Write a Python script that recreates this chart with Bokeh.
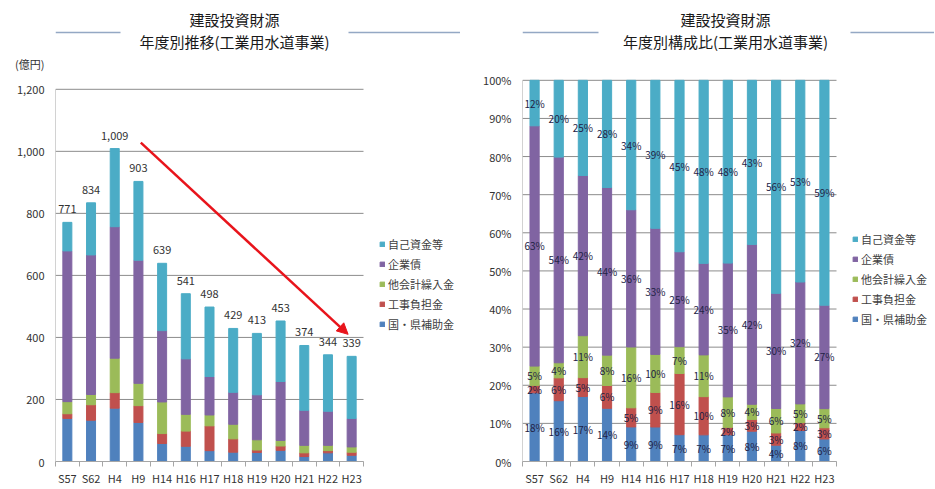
from bokeh.plotting import figure
from bokeh.models import (ColumnDataSource, FixedTicker, NumeralTickFormatter, Range1d,
                          Legend, LegendItem, Arrow, NormalHead, Label)
from bokeh.layouts import row
from bokeh.embed import file_html
from bokeh.resources import INLINE
from bokeh.core.properties import value

FONT = "Noto Sans CJK JP"

# ---------------- data ----------------
years = ["S57", "S62", "H4", "H9", "H14", "H16", "H17", "H18", "H19", "H20", "H21", "H22", "H23"]
subsidy = [139, 133, 172, 126, 58, 49, 35, 30, 29, 36, 16, 28, 20]          # 国・県補助金
contrib = [15, 50, 50, 54, 32, 49, 80, 43, 8, 14, 12, 7, 10]                # 工事負担金
transfer = [39, 33, 111, 72, 102, 54, 35, 47, 33, 18, 24, 17, 17]           # 他会計繰入金
bonds = [486, 450, 424, 397, 230, 179, 124, 103, 145, 190, 113, 110, 92]    # 企業債
own = [92, 168, 252, 254, 217, 210, 224, 206, 198, 195, 209, 182, 200]      # 自己資金等
totals = [771, 834, 1009, 903, 639, 541, 498, 429, 413, 453, 374, 344, 339]

series_names = ["国・県補助金", "工事負担金", "他会計繰入金", "企業債", "自己資金等"]
series_keys = ["subsidy", "contrib", "transfer", "bonds", "own"]
series_colors = ["#4F81BD", "#C0504D", "#9BBB59", "#8064A2", "#4BACC6"]

left_title = ["建設投資財源", "年度別推移(工業用水道事業)"]
right_title = ["建設投資財源", "年度別構成比(工業用水道事業)"]
unit_label = "(億円)"
amount_ticks = [0, 200, 400, 600, 800, 1000, 1200]
share_ticks = [i / 10 for i in range(11)]

xs = list(range(len(years)))
series_vals = [subsidy, contrib, transfer, bonds, own]

TEXT = "#333333"
GRID = "#8c8c8c"
AXIS = "#a6a6a6"
H = 488
BOTTOM = 26           # frame bottom at canvas y = 462
FRAME_H = H - BOTTOM


def make_fig(width, left, plot_px, top_px, ymax, yticks, yfmt, extra_tick=None):
    """Frame spans to the canvas right/top edge so that annotations are not clipped;
    the plotted area (categories / y ticks) covers plot_px x (FRAME_H - top_px) pixels."""
    n = len(years)
    frame_w = width - left
    x_end = -0.5 + frame_w * n / plot_px
    y_end = ymax * FRAME_H / (FRAME_H - top_px)
    p = figure(width=width, height=H, x_range=Range1d(-0.5, x_end), y_range=Range1d(0, y_end),
               output_backend="svg", toolbar_location=None,
               min_border_left=left, min_border_right=0, min_border_top=0, min_border_bottom=BOTTOM)
    p.outline_line_color = None
    p.xgrid.visible = False
    p.ygrid.visible = False
    # horizontal gridlines and y-axis line restricted to the plotted area
    p.segment(x0=[-0.5] * len(yticks), x1=[n - 0.5] * len(yticks), y0=yticks, y1=yticks,
              line_color=GRID, line_width=1)
    p.segment(x0=[-0.5], x1=[-0.5], y0=[0], y1=[yticks[-1]], line_color=AXIS, line_width=1)

    p.xaxis.ticker = FixedTicker(ticks=xs, minor_ticks=[i - 0.5 for i in range(n + 1)])
    p.xaxis.bounds = (-0.5, n - 0.5)
    p.xaxis.major_label_overrides = {i: y for i, y in enumerate(years)}
    p.xaxis.major_tick_out = 0
    p.xaxis.major_tick_in = 0
    p.xaxis.minor_tick_out = 5
    p.xaxis.minor_tick_in = 0
    p.xaxis.minor_tick_line_color = AXIS
    p.xaxis.axis_line_color = AXIS
    p.xaxis.major_label_standoff = 3

    ticks = list(yticks) + ([extra_tick[0]] if extra_tick else [])
    p.yaxis.ticker = FixedTicker(ticks=ticks)
    p.yaxis.formatter = NumeralTickFormatter(format=yfmt)
    if extra_tick:
        p.yaxis.major_label_overrides = {extra_tick[0]: extra_tick[1]}
    p.yaxis.axis_line_color = None
    p.yaxis.major_tick_out = 0
    p.yaxis.major_tick_in = 0
    p.yaxis.minor_tick_out = 0
    p.yaxis.minor_tick_in = 0
    p.yaxis.major_label_standoff = 11
    for ax in (p.xaxis, p.yaxis):
        ax.major_label_text_font = FONT
        ax.major_label_text_font_size = "11px"
        ax.major_label_text_color = TEXT
    return p


def add_title(p, lines, cx, segs):
    for txt, cy in zip(lines, [20, 42]):
        p.add_layout(Label(x=cx, y=FRAME_H - cy, x_units="screen", y_units="screen", text=txt,
                           text_align="center", text_baseline="middle", text_font=FONT,
                           text_font_size="15px", text_color="#1a1a1a"))
    for a, b in segs:
        p.add_layout(Arrow(end=None, x_start=a, y_start=FRAME_H - 33, x_end=b, y_end=FRAME_H - 33,
                           start_units="screen", end_units="screen",
                           line_color="#94A8C4", line_width=1.3))


def add_legend(p, renderers, vx, vy):
    items = [LegendItem(label=series_names[k], renderers=[renderers[k]]) for k in reversed(range(5))]
    leg = Legend(items=items, location=(vx, vy), orientation="vertical",
                 glyph_width=6, glyph_height=6, label_standoff=3, spacing=4,
                 padding=0, margin=0, border_line_color=None, background_fill_alpha=0,
                 label_text_font=FONT, label_text_font_size="11px", label_height=14,
                 label_text_color="#404040")
    p.add_layout(leg)


# ---------------- left: amounts ----------------
src1 = ColumnDataSource(dict(x=xs, **{k: v for k, v in zip(series_keys, series_vals)},
                             total=totals, label=[f"{t:,}" for t in totals]))
p1 = make_fig(460, 55, 308, 89, amount_ticks[-1], amount_ticks, "0,0", extra_tick=(1283, unit_label))
r1 = p1.vbar_stack(series_keys, x="x", width=0.38, color=series_colors, source=src1)
p1.text(x="x", y="total", text="label", source=src1, text_align="center", text_baseline="bottom",
        y_offset=-9, text_font=value(FONT), text_font_size="11px", text_color=TEXT)
p1.add_layout(Arrow(end=NormalHead(size=11, fill_color="#E8141B", line_color="#E8141B"),
                    x_start=3.1, y_start=1028, x_end=11.85, y_end=410,
                    line_color="#E8141B", line_width=2.5))
add_legend(p1, r1, 324, 129)
add_title(p1, left_title, 179, [(0, 65), (293, 405)])

# ---------------- right: shares ----------------
shares = [[v[i] / totals[i] for i in range(len(years))] for v in series_vals]
src2 = ColumnDataSource(dict(x=xs, **{k: s for k, s in zip(series_keys, shares)}))
p2 = make_fig(474, 62, 314, 80, share_ticks[-1], share_ticks, "0%")
r2 = p2.vbar_stack(series_keys, x="x", width=0.38, color=series_colors, source=src2)

lx, ly, lt = [], [], []
for i in range(len(years)):
    base = 0.0
    for s in shares:
        lx.append(i)
        ly.append(base + s[i] / 2)
        lt.append(f"{int(s[i] * 100 + 0.5)}%")
        base += s[i]
p2.text(x=lx, y=ly, text=lt, text_align="center", text_baseline="middle",
        text_font=value(FONT), text_font_size="10px", text_color="#222244")
add_legend(p2, r2, 330, 134)
add_title(p2, right_title, 203, [(0, 76), (328, 412)])

open("out.html", "w").write(file_html(row(p1, p2), INLINE))
